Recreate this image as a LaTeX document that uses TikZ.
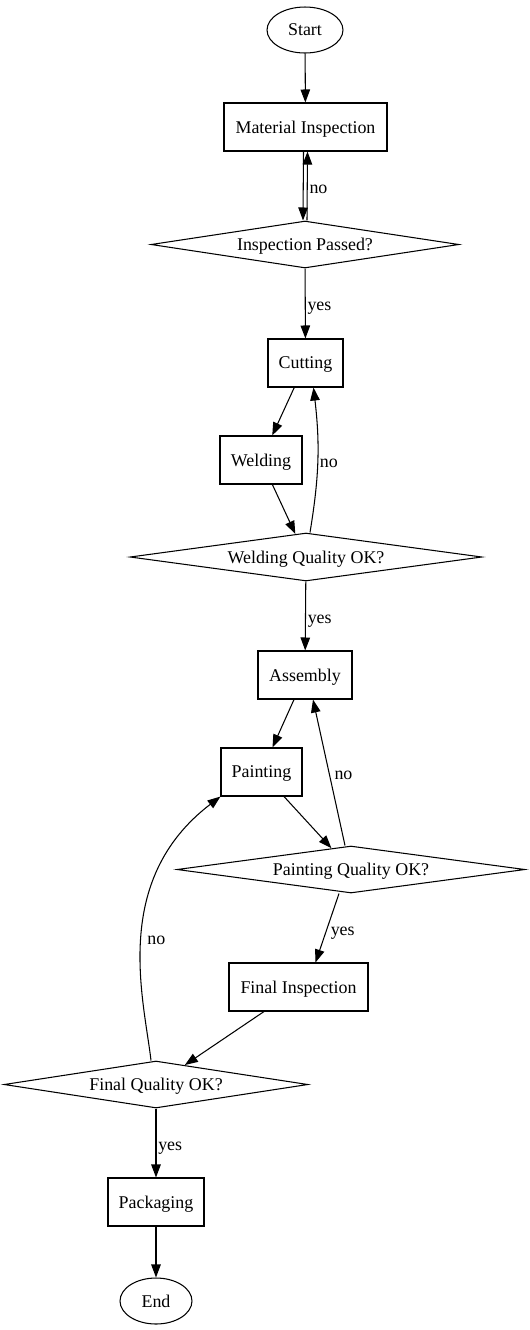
\documentclass[tikz,border=0pt]{standalone}
\usepackage{fontspec}
\setmainfont{Liberation Serif}
\usetikzlibrary{shapes.geometric,arrows.meta}
\begin{document}
\begin{tikzpicture}[x=0.02cm,y=-0.02cm,line width=0.6pt,
    font=\fontsize{10.2}{12}\selectfont,text depth=0pt,
    flow/.style={-{Triangle[length=0.26cm,width=0.19cm]}},
    term/.style={draw,ellipse,minimum width=1.52cm,minimum height=0.92cm,inner sep=0pt},
    stepbox/.style={draw,rectangle,minimum height=0.96cm,inner sep=0pt},
    check/.style={draw,diamond,aspect=7,minimum height=0.94cm,inner sep=0pt},
    lbl/.style={anchor=west,inner sep=1pt,yshift=-0.06cm}]
    \useasboundingbox (0,0) rectangle (529,1330);
    \node[term] (start) at (305,30) {Start};
    \node[stepbox,minimum width=3.26cm] (matinsp) at (305.5,127) {Material Inspection};
    \node[check,minimum width=6.16cm] (insppass) at (305,244.5) {Inspection Passed?};
    \node[stepbox,minimum width=1.5cm] (cutting) at (305.5,363) {Cutting};
    \node[stepbox,minimum width=1.64cm] (welding) at (261,460) {Welding};
    \node[check,minimum width=7.04cm,minimum height=0.96cm] (weldok) at (306,557) {Welding Quality OK?};
    \node[stepbox,minimum width=1.88cm] (assembly) at (305,675) {Assembly};
    \node[stepbox,minimum width=1.62cm] (painting) at (261.5,772) {Painting};
    \node[check,minimum width=6.96cm] (paintok) at (351,869.5) {Painting Quality OK?};
    \node[stepbox,minimum width=2.78cm] (finalinsp) at (298.5,987) {Final Inspection};
    \node[check,minimum width=6.08cm] (finalok) at (156,1084.5) {Final Quality OK?};
    \node[stepbox,minimum width=1.92cm] (packaging) at (156,1202) {Packaging};
    \node[term,minimum width=1.44cm] (end) at (156,1301) {End};
    \draw[flow] (start) -- (matinsp);
    \draw[flow] ([xshift=-0.04cm]matinsp.south) -- ([xshift=-0.04cm]insppass.north);
    \draw[flow] ([xshift=0.04cm]insppass.north) -- ([xshift=0.04cm]matinsp.south) node[lbl,midway] {no};
    \draw[flow] (insppass) -- (cutting) node[lbl,midway] {yes};
    \draw[flow] (cutting) -- (welding);
    \draw[flow] (welding) -- (weldok);
    \draw[flow] ([xshift=0.08cm]weldok.north) to[bend right=8] node[lbl,midway] {no} ([xshift=0.16cm]cutting.south);
    \draw[flow] (weldok) -- (assembly) node[lbl,midway] {yes};
    \draw[flow] (assembly) -- (painting);
    \draw[flow] (painting) -- (paintok);
    \draw[flow] ([xshift=-0.12cm]paintok.north) -- ([xshift=0.16cm]assembly.south) node[lbl,midway,inner sep=0.1cm] {no};
    \draw[flow] ([xshift=-0.24cm]paintok.south) -- ([xshift=0.34cm]finalinsp.north) node[lbl,midway,inner sep=0.06cm] {yes};
    \draw[flow] ([xshift=-0.69cm]finalinsp.south) -- (finalok);
    \draw[flow] ([xshift=-0.1cm]finalok.north) .. controls +(-7,-61) and +(-110,84) .. (painting.south west) node[lbl,pos=0.5,inner sep=0.1cm] {no};
    \draw[flow] (finalok) -- (packaging) node[lbl,midway] {yes};
    \draw[flow] (packaging) -- (end);
\end{tikzpicture}
\end{document}
